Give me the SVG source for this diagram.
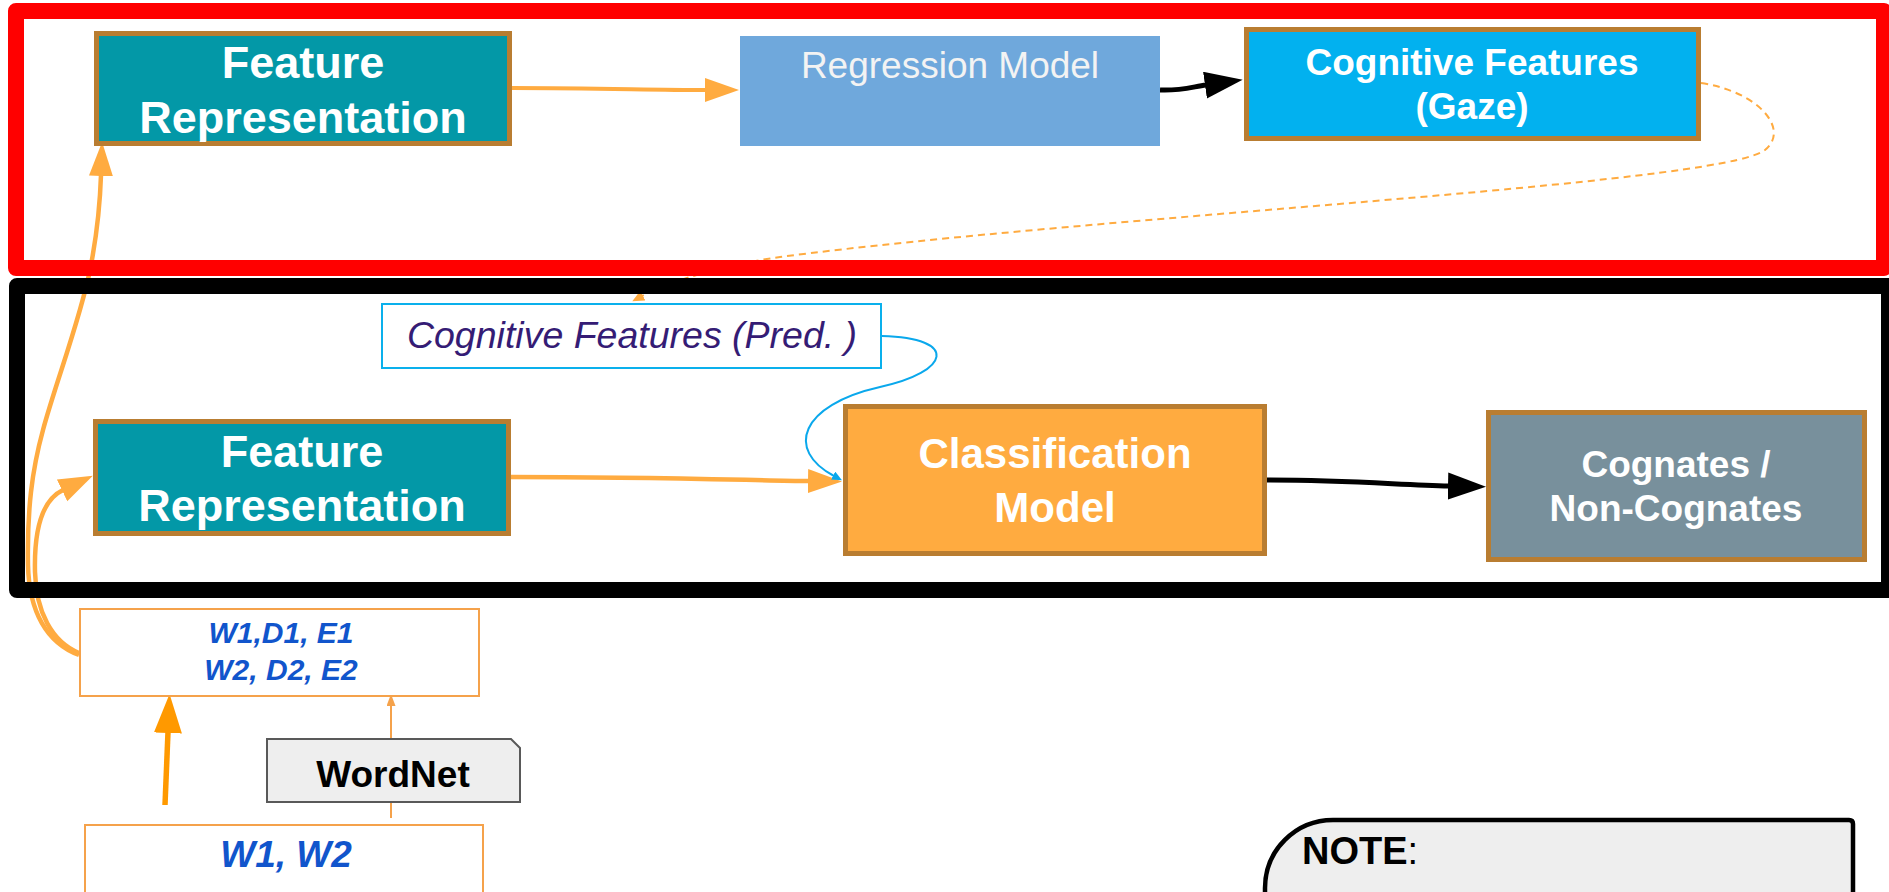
<svg xmlns="http://www.w3.org/2000/svg" width="1889" height="892" viewBox="0 0 1889 892">
<style>
.box{stroke:#B97D31;stroke-width:5}
.t{font-family:"Liberation Sans",Arial,sans-serif;text-anchor:middle}
.bw{fill:#fff;font-weight:bold}
.oc{fill:none;stroke:#FFAB40}
.wb{fill:#fff;stroke:#F5A24B;stroke-width:2}
.blue{fill:#1155CC;font-weight:bold;font-style:italic}
</style>
<defs>
<marker id="mO" markerUnits="userSpaceOnUse" markerWidth="36" markerHeight="26" refX="1" refY="12" orient="auto"><path d="M0,0 L34,12 L0,24 Z" fill="#FFAB40"/></marker>
<marker id="mK" markerUnits="userSpaceOnUse" markerWidth="40" markerHeight="28" refX="1" refY="13.5" orient="auto"><path d="M0,0 L38,13.5 L0,27 Z" fill="#000"/></marker>
<marker id="mT" markerUnits="userSpaceOnUse" markerWidth="41" markerHeight="30" refX="1" refY="14" orient="auto"><path d="M0,0 L39,14 L0,28 Z" fill="#FF9900"/></marker>
<marker id="mS" markerUnits="userSpaceOnUse" markerWidth="14" markerHeight="10" refX="1" refY="4.5" orient="auto"><path d="M0,0 L12,4.5 L0,9 Z" fill="#F5A24B"/></marker>
<marker id="mD" markerUnits="userSpaceOnUse" markerWidth="14" markerHeight="12" refX="1" refY="5.5" orient="auto"><path d="M0,0 L12,5.5 L0,11 Z" fill="#FFAB40"/></marker>
<marker id="mB" markerUnits="userSpaceOnUse" markerWidth="12" markerHeight="10" refX="1" refY="4.5" orient="auto"><path d="M0,0 L10,4.5 L0,9 Z" fill="#0AA8EC"/></marker>
</defs>
<rect width="1889" height="892" fill="#fff"/>

<g id="connectors">
<path class="oc" stroke-width="4" d="M512,88 C600,88 650,90 706,90" marker-end="url(#mO)"/>
<path fill="none" stroke="#000" stroke-width="5" d="M1160,90 C1180,91 1192,87 1206,85" marker-end="url(#mK)"/>
<path class="oc" stroke-width="4.5" d="M511,477 C650,477 740,480 809,481" marker-end="url(#mO)"/>
<path fill="none" stroke="#000" stroke-width="5" d="M1267,480 C1350,480 1400,485 1449,486" marker-end="url(#mK)"/>
<path class="oc" stroke-width="4.5" d="M79,655 C47,643 29,612 28,565 C27,510 32,470 43,430 C55,385 80,320 90,270 C96,240 100,205 101,175" marker-end="url(#mO)"/>
<path class="oc" stroke-width="4.5" d="M79,653 C52,642 36,612 35,572 C34,530 42,500 63,490" marker-end="url(#mO)"/>
<path fill="none" stroke="#FF9900" stroke-width="5.5" d="M165,805 L168,732" marker-end="url(#mT)"/>
<path fill="none" stroke="#F5A24B" stroke-width="2" d="M391,818 L391,705" marker-end="url(#mS)"/>
<path class="oc" stroke-width="2" stroke-dasharray="7,5" d="M1701,83 C1760,92 1790,130 1765,150 C1720,185 1100,215 780,257 C730,264 672,280 642,296" marker-end="url(#mD)"/>
<path fill="none" stroke="#0AA8EC" stroke-width="2" d="M882,336 C960,338 950,372 880,387 C800,405 785,450 834,476" marker-end="url(#mB)"/>
</g>

<g id="frames" fill="none" stroke-width="16" stroke-linejoin="round">
<rect id="frame-regression" x="16" y="11" width="1868" height="257" stroke="#FF0000"/>
<rect id="frame-classification" x="17" y="286" width="1872" height="304" stroke="#000"/>
</g>

<g id="fr-top">
<rect class="box" x="96.5" y="33.5" width="413" height="110" fill="#0398A7"/>
<text class="t bw" x="303" y="78" font-size="45">Feature</text>
<text class="t bw" x="303" y="133" font-size="45">Representation</text>
</g>
<g id="regression">
<rect x="740" y="36" width="420" height="110" fill="#6FA8DC"/>
<text class="t" x="950" y="78" font-size="37" fill="#F3F3F3">Regression Model</text>
</g>
<g id="cog-gaze">
<rect class="box" x="1246.5" y="29.5" width="452" height="109" fill="#02B1EF"/>
<text class="t bw" x="1472" y="75" font-size="37">Cognitive Features</text>
<text class="t bw" x="1472" y="119" font-size="37">(Gaze)</text>
</g>
<g id="cog-pred">
<rect x="382" y="304" width="499" height="64" fill="#fff" stroke="#0AB0EC" stroke-width="2"/>
<text class="t" x="632" y="348" font-size="37.5" font-style="italic" fill="#351C75">Cognitive Features (Pred. )</text>
</g>
<g id="fr-mid">
<rect class="box" x="95.5" y="421.5" width="413" height="112" fill="#0398A7" stroke-width="4.5"/>
<text class="t bw" x="302" y="467" font-size="45">Feature</text>
<text class="t bw" x="302" y="521" font-size="45">Representation</text>
</g>
<g id="classification">
<rect class="box" x="845.5" y="406.5" width="419" height="147" fill="#FFAB40"/>
<text class="t bw" x="1055" y="468" font-size="42">Classification</text>
<text class="t bw" x="1055" y="522" font-size="42">Model</text>
</g>
<g id="cognates">
<rect class="box" x="1488.5" y="412.5" width="376" height="147" fill="#78909C"/>
<text class="t bw" x="1676" y="477" font-size="37">Cognates /</text>
<text class="t bw" x="1676" y="521" font-size="37">Non-Cognates</text>
</g>
<g id="wde">
<rect class="wb" x="80" y="609" width="399" height="87"/>
<text class="t blue" x="281" y="643" font-size="30">W1,D1, E1</text>
<text class="t blue" x="281" y="680" font-size="30">W2, D2, E2</text>
</g>
<g id="wordnet">
<path d="M267,739 L511,739 L520,748 L520,802 L267,802 Z" fill="#EEEEEE" stroke="#595959" stroke-width="2"/>
<text class="t" x="393" y="787" font-size="37" font-weight="bold" fill="#000">WordNet</text>
</g>
<g id="w1w2">
<rect class="wb" x="85" y="825" width="398" height="80"/>
<text class="t blue" x="286" y="867" font-size="37">W1, W2</text>
</g>
<g id="note">
<path d="M1265,900 L1265,888 A68,68 0 0 1 1333,820 L1849,820 Q1853,820 1853,824 L1853,900" fill="#EEEEEE" stroke="#000" stroke-width="4.5"/>
<text x="1302" y="864" font-family="'Liberation Sans',Arial,sans-serif" font-size="38" fill="#000"><tspan font-weight="bold">NOTE</tspan>:</text>
</g>
</svg>
